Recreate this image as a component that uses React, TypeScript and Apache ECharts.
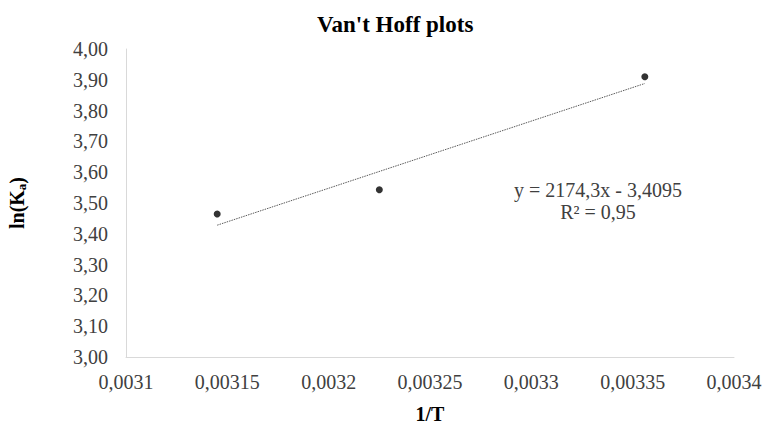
import React, { useEffect, useRef } from "react";
import * as echarts from "echarts";

const invT = [0.003145, 0.003225, 0.003356];
const lnKa = [3.464, 3.543, 3.91];
const trendX = [0.003145, 0.003356];
const trendY = [3.428, 3.888];
const equationText = "y = 2174,3x - 3,4095";
const r2Text = "R² = 0,95";

const serif = "Liberation Serif";
const fmtY = (v: number) => v.toFixed(2).replace(".", ",");
const fmtX = (v: number) => String(parseFloat(v.toFixed(6))).replace(".", ",");

export default function App() {
  const ref = useRef<HTMLDivElement>(null);
  useEffect(() => {
    if (!ref.current) return;
    const chart = echarts.init(ref.current, undefined, { renderer: "svg" });
    chart.setOption({
      animation: false,
      backgroundColor: "#ffffff",
      textStyle: { fontFamily: serif },
      title: {
        text: "Van't Hoff plots",
        left: 312,
        top: 8,
        textStyle: { fontFamily: serif, fontWeight: "bold", fontSize: 23, color: "#000" },
      },
      grid: { left: 126, right: 30, top: 49, bottom: 68, containLabel: false, outerBoundsMode: "none" },
      xAxis: {
        type: "value",
        min: 0.0031,
        max: 0.0034,
        interval: 0.00005,
        name: "1/T",
        nameLocation: "middle",
        nameGap: 47,
        nameTextStyle: { fontFamily: serif, fontWeight: "bold", fontSize: 20, color: "#000" },
        axisLine: { show: true, lineStyle: { color: "#d9d9d9", width: 1 } },
        axisTick: { show: false },
        splitLine: { show: false },
        axisLabel: { fontFamily: serif, fontSize: 20, color: "#404040", margin: 15, formatter: fmtX, hideOverlap: false },
      },
      yAxis: {
        type: "value",
        min: 3.0,
        max: 4.0,
        interval: 0.1,
        name: "{n|ln(K}{s|a}{n|)}",
        nameLocation: "middle",
        nameGap: 98,
        nameRotate: 90,
        nameTextStyle: {
          rich: {
            n: { fontFamily: serif, fontWeight: "bold", fontSize: 20, color: "#000" },
            s: { fontFamily: serif, fontWeight: "bold", fontSize: 13, color: "#000", verticalAlign: "bottom", padding: [10, 0, 0, 0] },
          },
        },
        axisLine: { show: true, lineStyle: { color: "#d9d9d9", width: 1 } },
        axisTick: { show: false },
        splitLine: { show: false },
        axisLabel: { fontFamily: serif, fontSize: 20, color: "#404040", margin: 18, formatter: fmtY },
      },
      series: [
        {
          type: "line",
          data: trendX.map((x, i) => [x, trendY[i]]),
          symbol: "none",
          lineStyle: { color: "#595959", width: 1, type: [1.5, 1] },
          silent: true,
          z: 1,
        },
        {
          type: "scatter",
          data: invT.map((x, i) => [x, lnKa[i]]),
          symbol: "circle",
          symbolSize: 7,
          itemStyle: { color: "#000" },
          z: 2,
        },
      ],
      graphic: [
        {
          type: "text",
          x: 598,
          y: 190,
          style: { text: equationText, fontFamily: serif, fontSize: 20, fill: "#404040", align: "center", verticalAlign: "middle" },
        },
        {
          type: "text",
          x: 598,
          y: 212,
          style: { text: r2Text, fontFamily: serif, fontSize: 20, fill: "#404040", align: "center", verticalAlign: "middle" },
        },
      ],
    });
    return () => chart.dispose();
  }, []);
  return <div ref={ref} style={{ width: 764, height: 425, position: "absolute", left: 0, top: 0 }} />;
}
